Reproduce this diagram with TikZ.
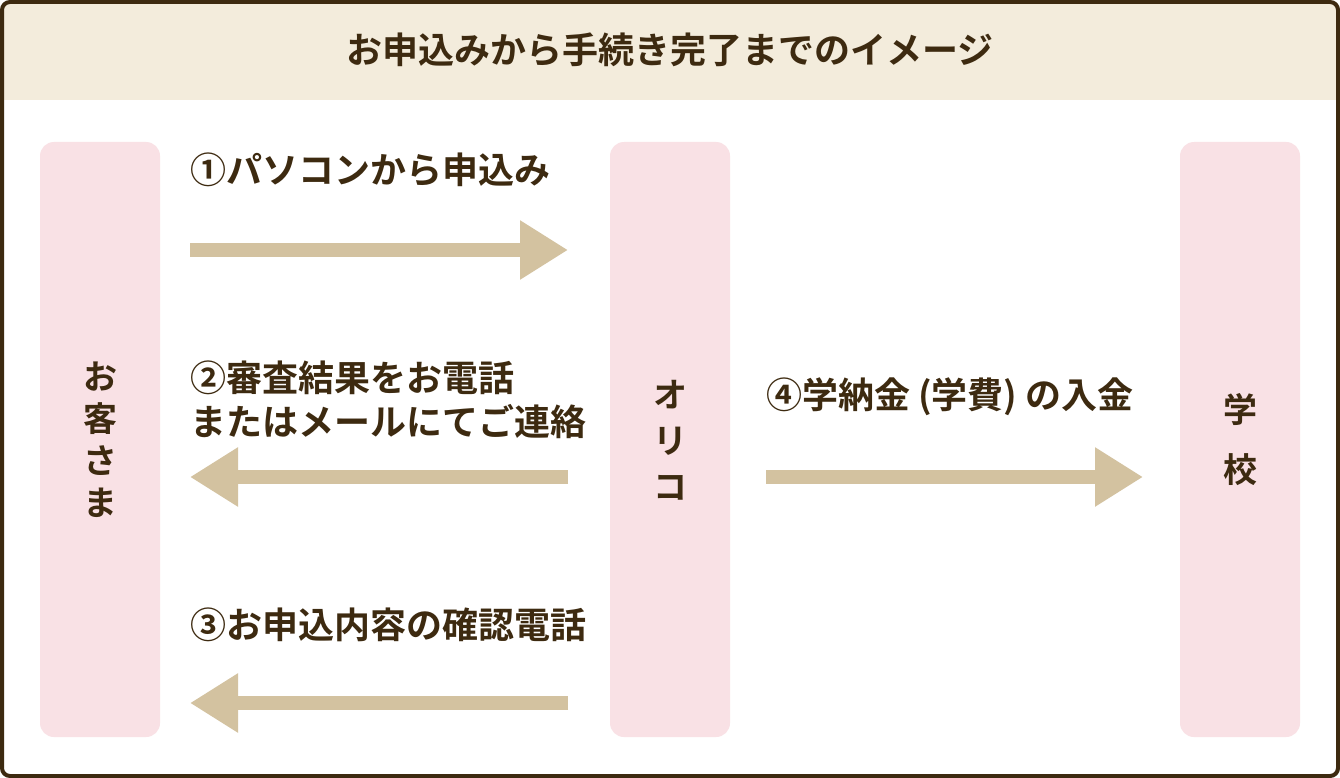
\documentclass[tikz,border=0pt]{standalone}
\usepackage{fontspec}
\newfontfamily\jp{Noto Sans CJK JP Bold}
\usetikzlibrary{arrows.meta}
\definecolor{brn}{HTML}{3D2A10}
\definecolor{hdr}{HTML}{F3ECDC}
\definecolor{pnk}{HTML}{F9E1E5}
\definecolor{arr}{HTML}{D3C2A0}
\begin{document}
\begin{tikzpicture}[x=1pt,y=-1pt,
 txt/.style={font=\jp\fontsize{36}{44}\selectfont,text=brn,inner sep=0},
 col/.style={fill=pnk,rounded corners=14},
 bigarrow/.style={draw=arr,line width=14,-{Triangle[width=56,length=48]}}]
\useasboundingbox (0,0) rectangle (1340,778);
\fill[white,rounded corners=10] (0,0) rectangle (1340,778);
\begin{scope}
\clip[rounded corners=8] (2,2) rectangle (1338,776);
\fill[hdr] (0,0) rectangle (1340,100);
\end{scope}
\draw[brn,line width=4,rounded corners=8] (2,2) rectangle (1338,776);
\node[txt] (title) at (670,50) {お申込みから手続き完了までのイメージ};
\fill[col] (40,142) rectangle (160,737);
\fill[col] (610,142) rectangle (730,737);
\fill[col] (1180,142) rectangle (1300,737);
\node[txt,align=center,font=\jp\fontsize{34}{42}\selectfont] (cust) at (100,440) {お\\客\\さ\\ま};
\node[txt,align=center,font=\jp\fontsize{34}{46}\selectfont] (orico) at (670,440) {オ\\リ\\コ};
\node[txt,align=center,font=\jp\fontsize{34}{60}\selectfont] (school) at (1240,440) {学\\校};
\node[txt,anchor=west] (l1) at (190,170) {①パソコンから申込み};
\node[txt,anchor=west,align=left] (l2) at (190,400) {②審査結果をお電話\\またはメールにてご連絡};
\node[txt,anchor=west] (l3) at (190,625) {③お申込内容の確認電話};
\node[txt,anchor=west] (l4) at (766,397) {④学納金 (学費) の入金};
\coordinate (a1s) at (190,250); \coordinate (a1e) at (568,250);
\coordinate (a2s) at (568,477); \coordinate (a2e) at (190,477);
\coordinate (a3s) at (568,703); \coordinate (a3e) at (190,703);
\coordinate (a4s) at (766,477); \coordinate (a4e) at (1143,477);
\draw[bigarrow] (a1s) -- (a1e);
\draw[bigarrow] (a2s) -- (a2e);
\draw[bigarrow] (a3s) -- (a3e);
\draw[bigarrow] (a4s) -- (a4e);
\end{tikzpicture}
\end{document}
